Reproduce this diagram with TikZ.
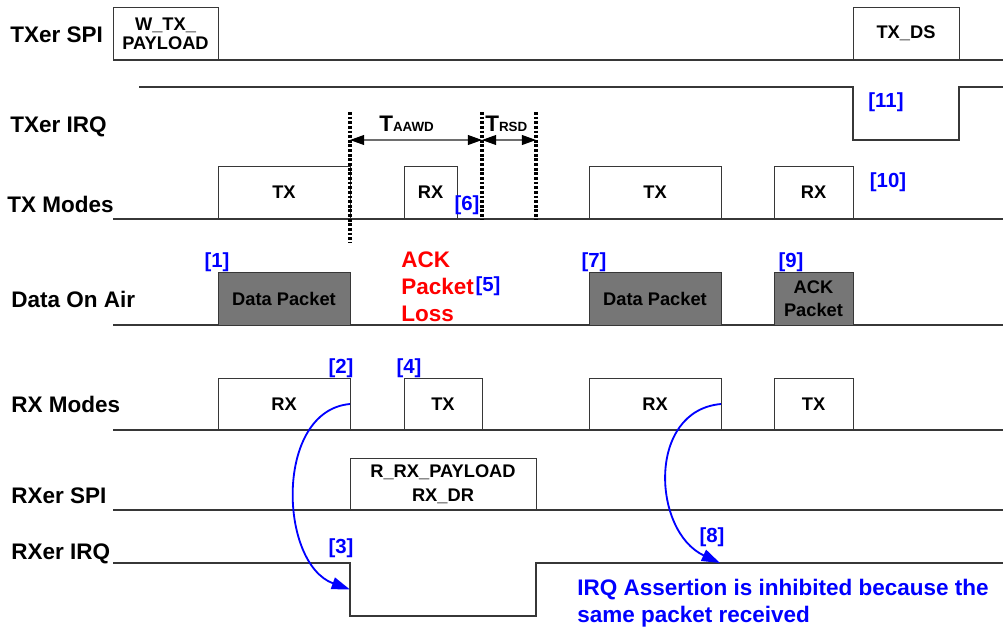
\documentclass[tikz,border=0pt]{standalone}
\usepackage{fontspec}
\setmainfont{Liberation Sans}
\usetikzlibrary{arrows.meta}
\definecolor{linegray}{RGB}{55,55,55}
\definecolor{spangray}{RGB}{110,110,110}
\definecolor{packetgray}{RGB}{118,118,118}
\definecolor{tagblue}{RGB}{0,0,255}
\definecolor{lossred}{RGB}{255,0,0}
\begin{document}
\begin{tikzpicture}[x=0.025cm, y=-0.025cm,
  rowlabel/.style={anchor=base west, inner sep=0, font=\fontsize{16}{18}\selectfont\bfseries},
  pulse/.style={draw=linegray, line width=0.7pt, anchor=south west, inner sep=0, outer sep=0,
    minimum height=53*\px, align=center, font=\fontsize{13}{15}\selectfont\bfseries},
  packet/.style={pulse, fill=packetgray},
  tag/.style={inner sep=0, text=tagblue, font=\fontsize{14.5}{16}\selectfont\bfseries},
  wire/.style={draw=linegray, line width=0.8pt},
  marker/.style={line width=2.4pt, dash pattern=on 2pt off 1.3pt},
  span/.style={draw=spangray, line width=0.8pt,
    {Triangle[length=10pt,width=7pt,color=black]}-{Triangle[length=10pt,width=7pt,color=black]}},
  flow/.style={draw=tagblue, line width=1.3pt, -{Triangle[length=13pt,width=8.5pt]}}
]
% one unit is one pixel of the 1003x627 frame
\def\px{0.025cm}
\useasboundingbox (0,0) rectangle (1003,627);

% TXer SPI
\node[rowlabel] (lspi) at (10,42) {TXer SPI};
\draw[wire] (113,60) -- (1003,60);
\node[pulse, minimum width=105*\px, font=\fontsize{13}{13.5}\selectfont\bfseries] (wtx) at (113,60) {W\_TX\_\\PAYLOAD};
\node[pulse, minimum width=106*\px] (txds) at (853,60) {TX\_DS};

% TXer IRQ
\node[rowlabel] (ltirq) at (10,132) {TXer IRQ};
\draw[wire] (139,87) -- (853,87) -- (853,140) -- (959,140) -- (959,87) -- (1003,87);
\node[tag] (t11) at (886,102) {[11]};

% TX Modes
\node[rowlabel] (ltxm) at (7,212) {TX Modes};
\draw[wire] (113,219) -- (1003,219);
\node[pulse, minimum width=132*\px] (txtx1) at (218,219) {TX};
\node[pulse, minimum width=53*\px] (txrx1) at (404,219) {RX};
\node[pulse, minimum width=132*\px] (txtx2) at (589,219) {TX};
\node[pulse, minimum width=79*\px] (txrx2) at (774,219) {RX};
\node[tag] (t6) at (467,205) {[6]};
\node[tag] (t10) at (888,182) {[10]};

% timing markers
\draw[marker] (350,112) -- (350,243);
\draw[marker] (482,112) -- (482,219);
\draw[marker] (536,112) -- (536,219);
\coordinate (aawdl) at (350,140);
\coordinate (aawdr) at (482,140);
\coordinate (rsdr) at (536,140);
\draw[span] (aawdl) -- (aawdr);
\draw[span] (aawdr) -- (rsdr);
\node[anchor=base west, inner sep=0, font=\fontsize{16}{18}\selectfont\bfseries] (taawd) at (379,131) {T{\fontsize{9.5}{10}\selectfont AAWD}};
\node[anchor=base west, inner sep=0, font=\fontsize{16}{18}\selectfont\bfseries] (trsd) at (485,131) {T{\fontsize{9.5}{10}\selectfont RSD}};

% Data On Air
\node[rowlabel] (lair) at (11,307) {Data On Air};
\draw[wire] (113,325) -- (1003,325);
\node[packet, minimum width=132*\px] (pkt1) at (218,325) {Data Packet};
\node[packet, minimum width=132*\px] (pkt2) at (589,325) {Data Packet};
\node[packet, minimum width=79*\px, font=\fontsize{13}{16}\selectfont\bfseries] (ack) at (774,325) {ACK\\Packet};
\node[tag] (t1) at (217,262) {[1]};
\node[tag] (t7) at (594,262) {[7]};
\node[tag] (t9) at (791,262) {[9]};
\node[anchor=west, inner sep=0, text=lossred, align=left, font=\fontsize{16}{19.2}\selectfont\bfseries] (loss) at (401,286.5) {ACK\\Packet\\Loss};
\node[tag] (t5) at (488,286) {[5]};

% RX Modes
\node[rowlabel] (lrxm) at (11,412) {RX Modes};
\draw[wire] (113,430) -- (1003,430);
\node[pulse, minimum width=132*\px, minimum height=52*\px] (rxrx1) at (218,430) {RX};
\node[pulse, minimum width=78*\px, minimum height=52*\px] (rxtx1) at (404,430) {TX};
\node[pulse, minimum width=132*\px, minimum height=52*\px] (rxrx2) at (589,430) {RX};
\node[pulse, minimum width=79*\px, minimum height=52*\px] (rxtx2) at (774,430) {TX};
\node[tag] (t2) at (341,368) {[2]};
\node[tag] (t4) at (409,368) {[4]};

% RXer SPI
\node[rowlabel] (lrspi) at (11,503) {RXer SPI};
\draw[wire] (113,510) -- (1003,510);
\node[pulse, minimum width=186*\px, minimum height=52*\px, font=\fontsize{13}{17}\selectfont\bfseries] (rdpl) at (350,510) {R\_RX\_PAYLOAD\\RX\_DR};

% RXer IRQ
\node[rowlabel] (lrirq) at (11,559) {RXer IRQ};
\draw[wire] (113,563) -- (350,563) -- (350,616) -- (536,616) -- (536,563) -- (1003,563);
\node[tag] (t3) at (341,548) {[3]};
\node[tag] (t8) at (712,537) {[8]};
\coordinate (irqin) at (350,589.5);
\coordinate (irqhold) at (720,563);
\draw[flow] (rxrx1.east) to[out=185, in=160, looseness=1.05] (irqin);
\draw[flow] (rxrx2.east) to[out=185, in=155, looseness=1.2] (irqhold);
\node[anchor=north west, inner sep=0, text=tagblue, align=left, font=\fontsize{16}{19.2}\selectfont\bfseries] (note) at (577,579) {IRQ Assertion is inhibited because the\\same packet received};
\end{tikzpicture}
\end{document}
